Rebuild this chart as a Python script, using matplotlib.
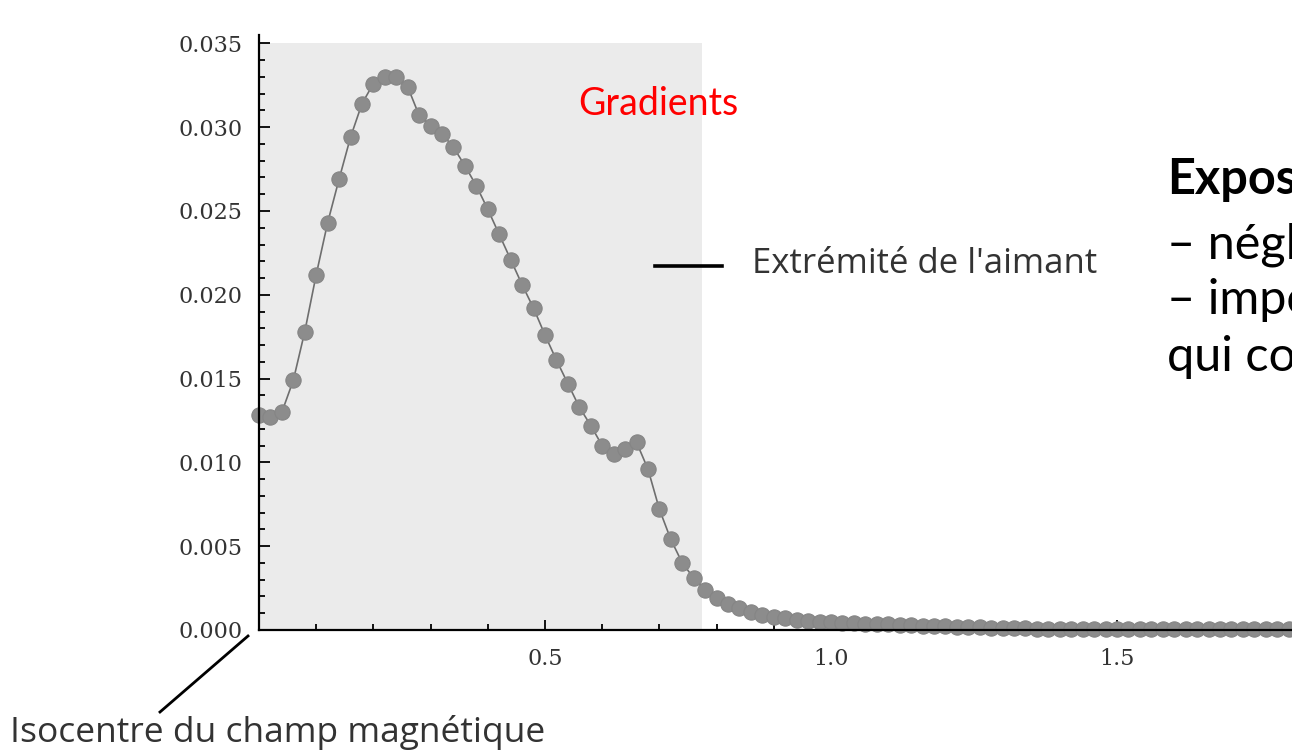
import matplotlib as mpl
import numpy as np
import matplotlib.pyplot as plt
from matplotlib.ticker import MultipleLocator, FixedLocator, FormatStrFormatter
import matplotlib.lines as mlines

# field gradient profile vs distance from isocentre (m), sampled every 0.02
step = 0.02
gradient = [0.0128, 0.0127, 0.0130, 0.0149, 0.0178, 0.0212, 0.0243, 0.0269, 0.0294, 0.0314,
            0.0326, 0.0330, 0.0330, 0.0324, 0.0307, 0.0301, 0.0296, 0.0288, 0.0277, 0.0265,
            0.0251, 0.0236, 0.0221, 0.0206, 0.0192, 0.0176, 0.0161, 0.0147, 0.0133, 0.0122,
            0.0110, 0.0105, 0.0108, 0.0112, 0.0096, 0.0072, 0.0054, 0.0040, 0.0031, 0.0024,
            0.0019, 0.00155, 0.0013, 0.0011, 0.0009, 0.0008, 0.0007, 0.00062, 0.00056, 0.0005,
            0.00046, 0.00043, 0.0004, 0.00038, 0.00036, 0.00033, 0.0003, 0.00028, 0.00026, 0.00024,
            0.00022, 0.0002, 0.00018, 0.00015, 0.00012, 0.0001,
            0.00009, 0.00009, 0.00008, 0.00008, 0.00008, 0.00007, 0.00007, 0.00007, 0.00007, 0.00006,
            0.00006, 0.00006, 0.00006, 0.00006, 0.00005, 0.00005, 0.00005, 0.00005, 0.00005, 0.00005,
            0.00004, 0.00004, 0.00004, 0.00004, 0.00004]
dist = np.round(np.arange(len(gradient)) * step, 2)

magnet_end = 0.775
zone_top = 0.035
x_labels = [0.5, 1.0, 1.5]

W, H = 1292, 756
def fx(px): return px / W
def fy(py): return 1 - py / H

fig = plt.figure(figsize=(W / 100, H / 100), dpi=100)
ax = fig.add_axes([fx(259), 126 / H, 1 - fx(259), 595 / H])

# shaded gradient zone
ax.fill_between([0, magnet_end], 0, zone_top, color='#ebebeb', lw=0, zorder=0)

ax.plot(dist, gradient, color='#6e6e6e', lw=1.2, marker='o', ms=11,
        mfc='#8c8c8c', mec='#858585', mew=0.8, clip_on=False, zorder=2)

ax.set_xlim(0, (W - 259) / 572)
ax.set_ylim(0, 0.0355)

for s in ['top', 'right']:
    ax.spines[s].set_visible(False)
for s in ['left', 'bottom']:
    ax.spines[s].set_color('black')
    ax.spines[s].set_linewidth(1.6)
    ax.spines[s].set_zorder(3)
ax.patch.set_alpha(0)

ax.xaxis.set_major_locator(FixedLocator(x_labels))
ax.xaxis.set_major_formatter(FormatStrFormatter('%.1f'))
ax.xaxis.set_minor_locator(MultipleLocator(0.1))
ax.yaxis.set_major_locator(MultipleLocator(0.005))
ax.yaxis.set_major_formatter(FormatStrFormatter('%.3f'))
ax.yaxis.set_minor_locator(MultipleLocator(0.001))

ax.tick_params(axis='both', which='both', direction='in', colors='black', width=1.3)
ax.tick_params(axis='y', which='major', length=8, pad=12, labelsize=16, labelcolor='#333333')
ax.tick_params(axis='y', which='minor', length=4)
ax.tick_params(axis='x', which='major', length=7, pad=13, labelsize=16, labelcolor='#333333')
ax.tick_params(axis='x', which='minor', length=4)
for lab in ax.get_xticklabels() + ax.get_yticklabels():
    lab.set_fontfamily('DejaVu Serif')

# annotations
fig.text(fx(578), fy(104), 'Gradients', color='red', fontsize=27,
         family='Lato', va='center', ha='left')

fig.add_artist(mlines.Line2D([fx(655), fx(722)], [fy(266), fy(266)],
                             color='black', lw=2.6, transform=fig.transFigure))
fig.text(fx(752), fy(264), "Extrémité de l'aimant", color='#333333', fontsize=25,
         family='Open Sans', va='center', ha='left')

fig.add_artist(mlines.Line2D([fx(248), fx(160)], [fy(636), fy(712)],
                             color='black', lw=2, transform=fig.transFigure))
fig.text(fx(10), fy(732), 'Isocentre du champ magnétique', color='#333333', fontsize=25.5,
         family='Open Sans', va='center', ha='left')

# slide text on the right, cut by the slide edge
fig.text(fx(1167), fy(180), 'Exposition', color='black', fontsize=35,
         family='Lato', weight='bold', va='center', ha='left')
fig.text(fx(1167), fy(245), '– négligeable', color='black', fontsize=35,
         family='Lato', va='center', ha='left')
fig.text(fx(1167), fy(300), '– importante', color='black', fontsize=35,
         family='Lato', va='center', ha='left')
fig.text(fx(1167), fy(357), 'qui concerne', color='black', fontsize=35,
         family='Lato', va='center', ha='left')

fig.savefig('out.png', dpi=100)
